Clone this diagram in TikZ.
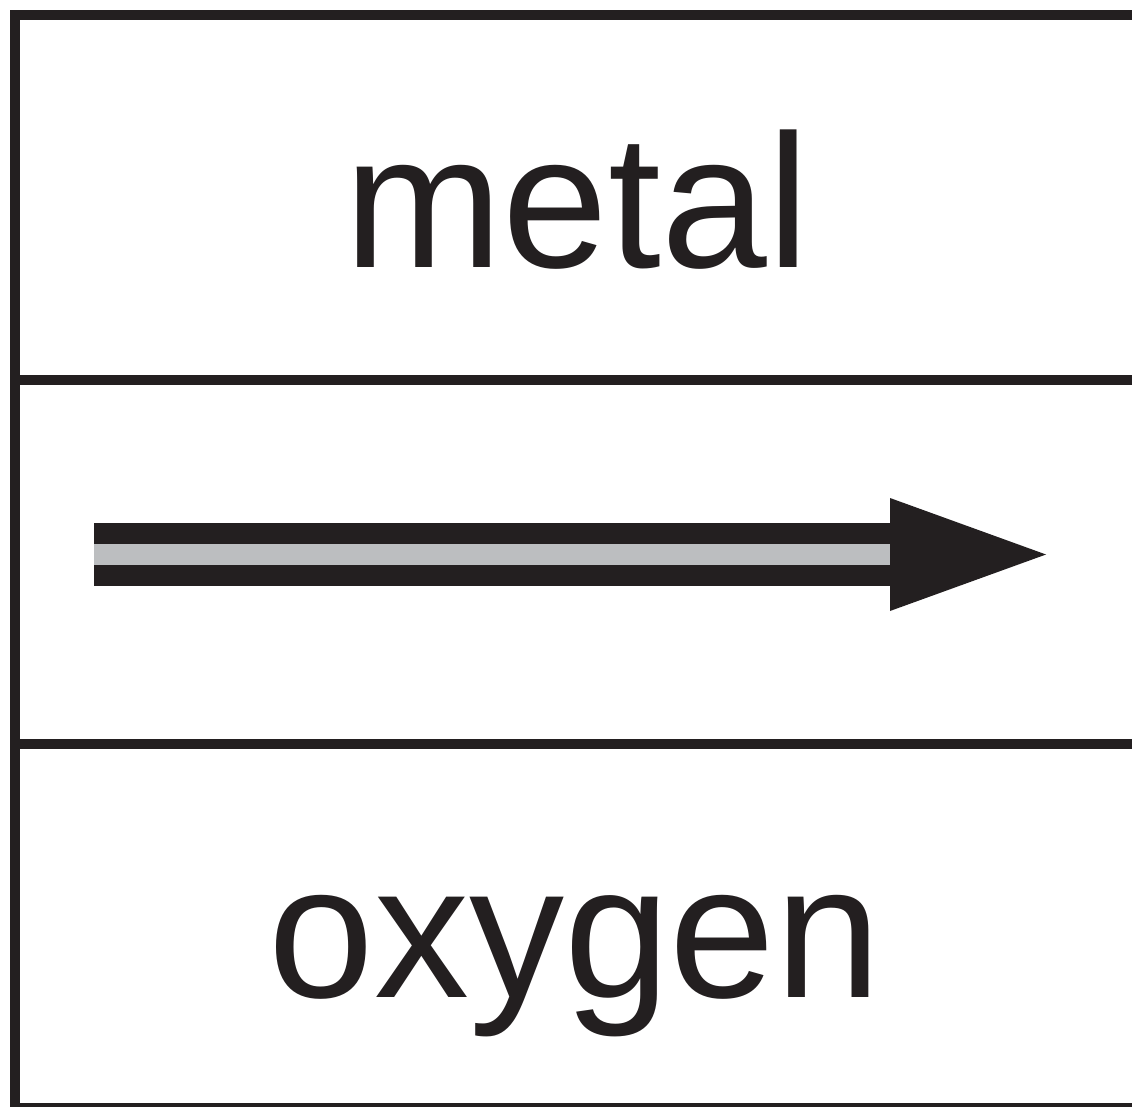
\documentclass[tikz,border=0pt]{standalone}
\usepackage{fontspec}
\setmainfont{Liberation Sans}
\usetikzlibrary{positioning,calc}

\begin{document}
\begin{tikzpicture}[x=1pt, y=-1pt,
    wall/.style={draw=inkblack, line width=10pt, line join=miter},
    layer/.style={font=\fontsize{190}{200}\selectfont, text=inkblack, anchor=base, inner sep=0pt},
    shaft/.style={fill=inkblack},
    stripe/.style={fill=stripegray},
  ]
  \definecolor{inkblack}{RGB}{35,31,32}
  \definecolor{stripegray}{RGB}{188,190,192}

  \useasboundingbox (0,0) rectangle (1132,1107);

  % frame and layer boundaries
  \draw[wall] (1145,15.5) -- (14.5,15.5) -- (14.5,1120);
  \draw[wall] (14.5,380) -- (1145,380);
  \draw[wall] (14.5,744) -- (1145,744);
  \draw[wall] (14.5,1108) -- (1145,1108);

  % layer labels
  \node[layer] (metal)  at (577,268) {metal};
  \node[layer] (oxygen) at (575,997) {oxygen};

  % arrow
  \coordinate (tail) at (94,554.5);
  \coordinate (neck) at (890,554.5);
  \coordinate (tip)  at (1046,554.5);
  \fill[shaft]  ($(tail)+(0,-31.5)$) rectangle ($(neck)+(0,31.5)$);
  \fill[stripe] ($(tail)+(0,-10.5)$) rectangle ($(neck)+(0,10.5)$);
  \fill[shaft]  ($(neck)+(0,-56.5)$) -- (tip) -- ($(neck)+(0,56.5)$) -- cycle;
\end{tikzpicture}
\end{document}
